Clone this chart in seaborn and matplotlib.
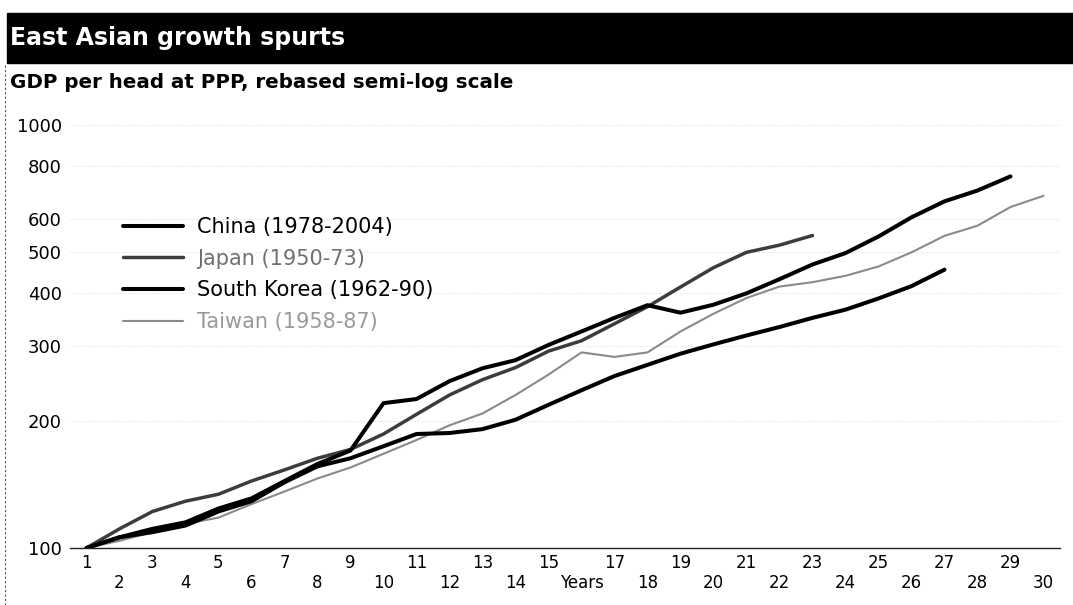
import numpy as np
import pandas as pd
import seaborn as sns
import matplotlib.pyplot as plt
from matplotlib.lines import Line2D
from matplotlib.patches import Rectangle

# rebased GDP per head (year 1 = 100)
years = list(range(1, 31))
china = [100, 106, 109, 113, 122, 129, 143, 156, 163, 174, 186, 187, 191, 201,
         218, 236, 255, 271, 288, 303, 318, 333, 350, 366, 389, 416, 455]
japan = [100, 111, 122, 129, 134, 144, 153, 163, 171, 186, 207, 230, 250, 267,
         292, 309, 339, 372, 414, 460, 500, 520, 548]
korea = [100, 106, 111, 115, 124, 131, 144, 158, 170, 220, 225, 248, 266, 278,
         302, 325, 350, 375, 360, 376, 400, 432, 468, 498, 545, 605, 660, 700, 756]
taiwan = [100, 104, 109, 114, 118, 127, 136, 146, 155, 167, 180, 195, 208, 230,
          257, 290, 283, 290, 325, 358, 390, 415, 425, 440, 463, 500, 547, 578, 640, 680]

countries = ['China (1978-2004)', 'Japan (1950-73)', 'South Korea (1962-90)', 'Taiwan (1958-87)']
yticks = [100, 200, 300, 400, 500, 600, 800, 1000]

colours = {countries[0]: '#000000', countries[1]: '#3c3c3c',
           countries[2]: '#000000', countries[3]: '#8a8a8a'}
widths = {countries[0]: 2.9, countries[1]: 2.5, countries[2]: 2.9, countries[3]: 1.5}
text_colours = ['#000000', '#707070', '#000000', '#9a9a9a']

frames = []
for name, vals in zip(countries, [china, japan, korea, taiwan]):
    frames.append(pd.DataFrame({'year': years[:len(vals)], 'gdp': vals, 'country': name}))
df = pd.concat(frames, ignore_index=True)

sns.set_style('white')
plt.rcParams['font.family'] = ['DejaVu Sans']
plt.rcParams['text.color'] = 'black'
plt.rcParams['xtick.color'] = 'black'
plt.rcParams['ytick.color'] = 'black'

W, H = 1073, 605
fig = plt.figure(figsize=(W / 100, H / 100), dpi=100)
ax = fig.add_axes([70 / W, (H - 548) / H, (1060 - 70) / W, (548 - 125) / H])

# draw order: lighter lines underneath
order = [countries[3], countries[1], countries[0], countries[2]]
sns.lineplot(data=df, x='year', y='gdp', hue='country', hue_order=order,
             palette=colours, size='country', sizes=widths, size_order=order,
             legend=False, ax=ax)
for ln in ax.get_lines():
    ln.set_solid_capstyle('round')

ax.set_yscale('log')
ax.set_ylim(100, 1000)
ax.set_xlim(0.5, 30.3)
ax.set_yticks(yticks, labels=[str(v) for v in yticks])
ax.yaxis.set_minor_locator(plt.NullLocator())
ax.tick_params(axis='y', length=0, pad=6, labelsize=13, labelcolor='black')
ax.grid(axis='y', which='major', ls=':', color='#d4d4d4', lw=0.6)

xlabels = [str(y) if y % 2 else '\n' + str(y) for y in years]
xlabels[15] = '\nYears'
ax.set_xticks(years, labels=xlabels)
ax.set_xticks(np.arange(0.5, 31, 1), minor=True)
ax.tick_params(axis='x', which='major', length=0, pad=4, labelsize=12, labelcolor='black')
ax.tick_params(axis='x', which='minor', direction='in', length=11, width=0.8, color='#444444')
ax.set_xlabel('')
ax.set_ylabel('')

for s in ['top', 'right', 'left']:
    ax.spines[s].set_visible(False)
ax.spines['bottom'].set_color('#222222')
ax.spines['bottom'].set_linewidth(1)

handles = [Line2D([], [], color=colours[c], lw=widths[c]) for c in countries]
leg = ax.legend(handles, countries, loc='upper left', bbox_to_anchor=(123 / W, 1 - 217 / H),
                bbox_transform=fig.transFigure, frameon=False, fontsize=15,
                handlelength=2.9, handletextpad=0.65, labelspacing=0.56,
                borderpad=0, borderaxespad=0)
for t, c in zip(leg.get_texts(), text_colours):
    t.set_color(c)

# title bar and subtitle
fig.add_artist(Rectangle((7 / W, 1 - 63 / H), 1 - 7 / W, 50 / H,
                         transform=fig.transFigure, color='black'))
fig.text(10 / W, 1 - 38 / H, 'East Asian growth spurts', color='white',
         fontsize=17, fontweight='bold', va='center', ha='left')
fig.text(10 / W, 1 - 83 / H, 'GDP per head at PPP, rebased semi-log scale',
         color='black', fontsize=14.3, fontweight='bold', va='center', ha='left')
fig.add_artist(Line2D([5 / W, 5 / W], [0, 1 - 63 / H], transform=fig.transFigure,
                      color='#555555', lw=0.8, ls=(0, (2, 2))))

fig.savefig('out.png', dpi=100)
